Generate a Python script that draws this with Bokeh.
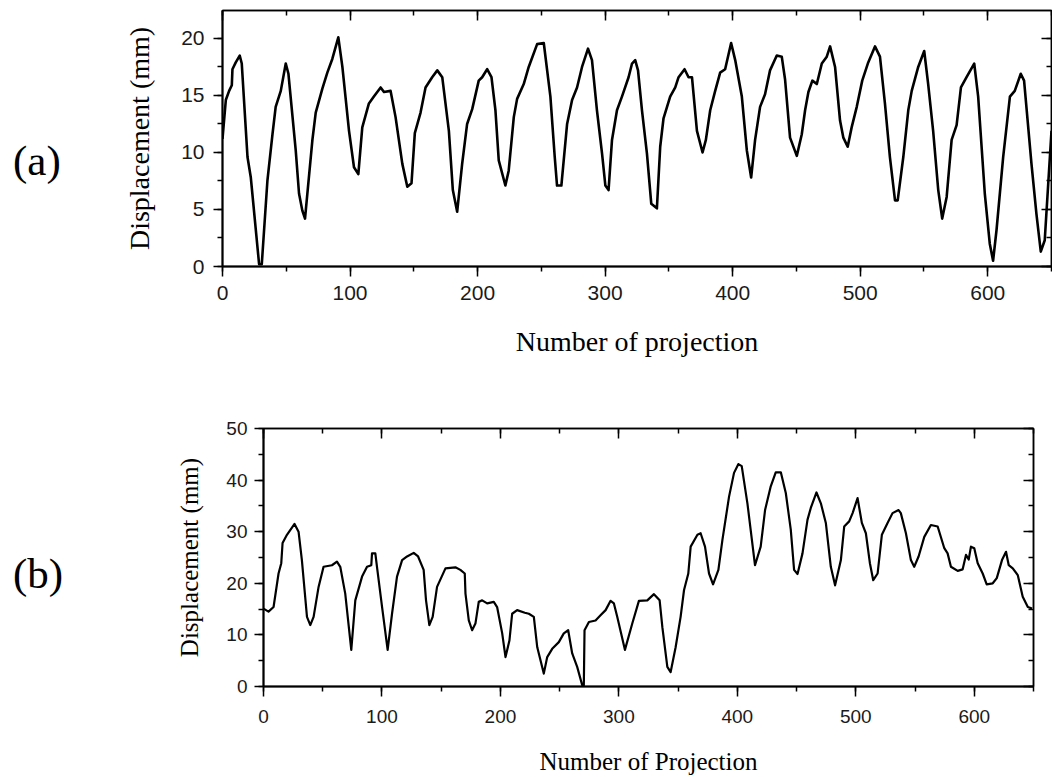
from bokeh.plotting import figure
from bokeh.models import (LinearAxis, Range1d, SingleIntervalTicker, CustomJSTickFormatter, Div)
from bokeh.layouts import row
from bokeh.embed import file_html
from bokeh.resources import INLINE

# ---------------- data ----------------
xa = [0, 2.6, 5.2, 7.3, 7.8, 10.4, 13.5, 15.1, 19.6, 22.2, 28.7, 30.8, 35.2, 39.2, 41.7, 45.7, 49.6, 51.7,
      57.4, 60, 62.6, 64.7, 70.5, 73.1, 78.3, 82.2, 86.1, 90.8, 94, 99.2, 103.1, 106.5, 109.6, 114.8, 118.7,
      124, 126.6, 131.8, 135.7, 141, 144.9, 148.2, 150.8, 155.3, 159.2, 164.4, 168.4, 172.3, 177.5, 180.6,
      184, 187.9, 191.8, 195.8, 200.9, 203.6, 207.5, 210.9, 214, 216.6, 221.8, 224.4, 228.4, 231, 236.2,
      240.1, 246.7, 251.9, 257.1, 260.5, 262.3, 265.7, 270.2, 274.1, 278, 281.9, 286.6, 289.7, 293.6, 297.6,
      300.2, 302.7, 305.4, 309.3, 313.2, 318.4, 321.1, 323.6, 325.8, 328.9, 332.8, 336.2, 340.6, 343.2,
      345.8, 351, 355, 357.6, 362.3, 365.4, 368.1, 372, 376.4, 379, 382.4, 386.3, 390.2, 394.1, 398.8, 402,
      407.2, 411.1, 414.5, 417.6, 421.5, 425.4, 429.3, 434.6, 438.5, 441.1, 445, 450.3, 454.2, 456.8, 459.4,
      462.5, 466, 469.9, 473.8, 476.4, 480.3, 484.2, 486.8, 490.2, 493.3, 497.3, 501.6, 506.3, 511.6, 515.5,
      519.4, 523.3, 527.3, 529.4, 533.8, 537.7, 540.4, 545.5, 550.2, 553.3, 557.2, 561.2, 564.3, 567.8,
      571.7, 575.6, 579, 583.4, 589.4, 592.5, 597.7, 601.6, 604.2, 606.9, 612.1, 617.4, 621.2, 625.9, 628.5,
      634.3, 638.2, 641.6, 644.7, 650]
ya = [11.2, 14.6, 15.4, 15.9, 17.3, 17.9, 18.5, 17.8, 9.6, 7.8, 0.2, 0.2, 7.5, 11.6, 14.0, 15.4, 17.8, 16.9,
      10.2, 6.4, 4.9, 4.2, 11.1, 13.5, 15.6, 17.0, 18.2, 20.1, 17.5, 11.9, 8.7, 8.1, 12.2, 14.3, 14.9,
      15.7, 15.3, 15.4, 13.1, 9.0, 7.0, 7.3, 11.7, 13.5, 15.7, 16.6, 17.2, 16.6, 11.9, 6.7,
      4.8, 9.0, 12.5, 13.8, 16.3, 16.6, 17.3, 16.6, 13.7, 9.3, 7.1, 8.4, 13.1, 14.7, 16.0,
      17.5, 19.5, 19.6, 14.9, 9.6, 7.1, 7.1, 12.5, 14.6, 15.7, 17.5, 19.1, 18.1, 13.7, 9.9,
      7.1, 6.7, 11.1, 13.7, 14.9, 16.6, 17.8, 18.1, 17.2, 13.7, 9.9, 5.5, 5.1, 10.5,
      13.0, 14.9, 15.7, 16.6, 17.3, 16.6, 16.6, 11.9, 10.0, 11.1, 13.7, 15.4, 17.0, 17.3, 19.6, 18.1,
      14.9, 10.2, 7.8, 11.1, 14.0, 15.1, 17.2, 18.5, 18.4, 16.4, 11.3, 9.7, 11.6, 13.7, 15.3,
      16.3, 16.0, 17.8, 18.4, 19.3, 17.5, 12.8, 11.3, 10.5, 12.2, 14.0, 16.3, 17.9, 19.3, 18.4,
      14.3, 9.6, 5.8, 5.8, 9.6, 13.7, 15.4, 17.5, 18.9, 16.0, 11.9, 6.7, 4.2, 6.1,
      11.1, 12.4, 15.7, 16.6, 17.8, 14.9, 6.4, 2.0, 0.5, 3.2, 9.6, 14.9, 15.4, 16.9, 16.3,
      9.0, 4.6, 1.3, 2.3, 11.9]

xb = [0, 4.2, 8.5, 12.7, 15, 16.1, 19.8, 26.2, 29.6, 32.4, 36.7, 39.5, 42.3, 46.5, 50.7, 57.8, 62, 64.8, 69,
      74.1, 77.5, 83.2, 87.4, 91, 91.6, 94.4, 95.8, 100.1, 104.8, 108.5, 112.7, 117, 121.2, 126.8, 130.5,
      135.2, 137.2, 140, 142.8, 146.5, 153.6, 162, 166.2, 169.9, 170.5, 173.3, 176.1, 178.9, 181.7, 184.6,
      188.8, 194.4, 197.2, 201.5, 204.3, 207.6, 209.9, 214.1, 220.6, 224, 228.2, 231.1, 236.6, 239.5, 243.7,
      249.3, 253.5, 257.2, 260.6, 264.8, 269.1, 270.4, 271, 274.7, 280.3, 284.5, 288.8, 293, 295.8, 298.6,
      305.1, 311.3, 316.9, 324, 329.6, 334.4, 336.7, 340.9, 343.7, 347.9, 352.1, 355, 358.6, 360.6, 366.3,
      369, 372.7, 376.1, 379.5, 384, 387.4, 393, 397.2, 400.9, 403.7, 408.5, 414.9, 419.7, 423.4, 428.2,
      432.4, 436.7, 440.9, 445.1, 447.9, 450.8, 455, 459.2, 462, 466.8, 470.5, 474.7, 478.9, 482.5, 487.4,
      490.2, 494.4, 497.3, 501.5, 505.1, 508.5, 511.9, 514.7, 518.4, 522, 526.8, 531, 536.1, 538, 542.3,
      546.5, 549.3, 553, 557.8, 563.4, 569.1, 574.7, 577.5, 580.3, 586, 590.2, 593, 595.3, 597.2, 600,
      602.9, 607.1, 610.5, 615.6, 619, 623.4, 626.8, 629.1, 632.5, 636.7, 640.9, 645.2, 648.8]
yb = [15.1, 14.5, 15.4, 21.9, 23.9, 27.8, 29.4, 31.5, 30.0, 24.5, 13.5, 11.9, 13.5, 19.3, 23.2, 23.5, 24.2, 23.2, 18.0,
      7.1, 16.7, 21.3, 23.2, 23.5, 25.8, 25.8, 23.2, 15.4, 7.1, 14.1, 21.3, 24.5, 25.2, 25.9, 25.2,
      22.6, 16.7, 11.9, 13.5, 19.3, 22.9, 23.1, 22.6, 21.9, 18.0, 12.8, 10.9, 12.2, 16.4, 16.7,
      16.1, 16.4, 15.4, 10.3, 5.7, 8.9, 14.1, 14.8, 14.3, 14.1, 13.5, 7.6, 2.5, 5.7, 7.3,
      8.6, 10.3, 10.9, 6.4, 3.8, 0.2, 0.2, 10.9, 12.5, 12.8, 13.8, 14.8, 16.6, 16.1, 13.5,
      7.1, 12.2, 16.6, 16.7, 17.9, 16.7, 11.5, 3.8, 2.8, 7.6, 13.5, 18.7, 21.9, 27.1, 29.4,
      29.7, 27.1, 21.9, 19.8, 22.6, 28.4, 36.8, 41.4, 43.1, 42.7, 35.5, 23.5, 27.1, 34.2, 38.8,
      41.5, 41.5, 37.5, 30.4, 22.6, 21.8, 25.8, 32.3, 34.6, 37.6, 35.5, 31.7, 23.2, 19.6, 24.5,
      31.0, 32.0, 33.6, 36.5, 31.7, 29.7, 23.9, 20.6, 21.9, 29.4, 31.7, 33.6, 34.2, 33.6, 29.7,
      24.5, 23.2, 25.2, 29.0, 31.3, 31.0, 26.8, 25.8, 23.2, 22.4, 22.7, 25.5, 24.6, 27.1, 26.8,
      23.9, 21.9, 19.8, 20.0, 21.0, 24.5, 26.1, 23.5, 22.9, 21.6, 17.4, 15.4, 15.1]

ytitle = "Displacement (mm)"
xtitle_a = "Number of projection"
xtitle_b = "Number of Projection"
panel_a = "(a)"
panel_b = "(b)"

SANS = "Liberation Sans"
SERIF = "Liberation Serif"


def style_axis(ax, tick_font, title_font, tick_out, tick_in, minor_out, minor_in,
               label_standoff, title_standoff, line_w):
    ax.axis_line_color = "black"
    ax.axis_line_width = line_w
    ax.major_tick_line_color = "black"
    ax.minor_tick_line_color = "black"
    ax.major_tick_line_width = 1.5
    ax.minor_tick_line_width = 1.5
    ax.major_tick_out = tick_out
    ax.major_tick_in = tick_in
    ax.minor_tick_out = minor_out
    ax.minor_tick_in = minor_in
    ax.major_label_text_font = SANS
    ax.major_label_text_font_size = tick_font
    ax.major_label_text_color = "#1a1a1a"
    ax.major_label_standoff = label_standoff
    ax.axis_label_text_font = SERIF
    ax.axis_label_text_font_size = title_font
    ax.axis_label_text_font_style = "normal"
    ax.axis_label_text_color = "black"
    ax.axis_label_standoff = title_standoff


def mirror_axis(interval):
    ax = LinearAxis(ticker=SingleIntervalTicker(interval=interval, num_minor_ticks=2),
                    formatter=CustomJSTickFormatter(code="return ''"))
    style_axis(ax, "0px", "0px", 0, 10, 0, 5, 0, 0, 1.5)
    return ax


def panel(xs, ys, xend, ytop, yint, width, height, bl, br, bt, bb, tick_font, title_font,
          xtitle, lw, xl_stand, xt_stand, yl_stand, yt_stand):
    p = figure(width=width, height=height, x_range=Range1d(0, xend), y_range=Range1d(0, ytop),
               output_backend="svg", toolbar_location=None,
               min_border_left=bl, min_border_right=br, min_border_top=bt, min_border_bottom=bb,
               x_axis_location=None, y_axis_location=None)
    p.xgrid.visible = False
    p.ygrid.visible = False
    p.outline_line_color = "black"
    p.outline_line_width = 1.5
    p.background_fill_color = "white"
    p.border_fill_color = "white"

    xb_ax = LinearAxis(ticker=SingleIntervalTicker(interval=100, num_minor_ticks=2), axis_label=xtitle)
    style_axis(xb_ax, tick_font, title_font, 10, 0, 5, 0, xl_stand, xt_stand, 2)
    p.add_layout(xb_ax, "below")

    yl_ax = LinearAxis(ticker=SingleIntervalTicker(interval=yint, num_minor_ticks=2), axis_label=ytitle)
    style_axis(yl_ax, tick_font, title_font, 9, 0, 5, 0, yl_stand, yt_stand, 2)
    p.add_layout(yl_ax, "left")

    p.add_layout(mirror_axis(100), "above")
    p.add_layout(mirror_axis(yint), "right")

    p.line(xs, ys, line_color="black", line_width=lw, line_join="round")
    return p


def tag(text, width, pad_top, pad_left):
    return Div(text=text, width=width,
               styles={"font-family": SERIF, "font-size": "43px", "color": "black",
                       "padding-top": f"{pad_top}px", "padding-left": f"{pad_left}px",
                       "line-height": "46px"})


pa = panel(xa, ya, 650, 22.45, 5, 972, 380, 142, 1, 10, 114, "21px", "28px", xtitle_a, 2.6,
           9, 23, 9, 23)
pb = panel(xb, yb, 650, 50, 10, 972, 397, 183, 19, 48, 91, "19px", "25px", xtitle_b, 2.2,
           13, 22, 7, 20)

root_a = row(tag(panel_a, 70, 133, 8), pa, spacing=0)
root_b = row(tag(panel_b, 70, 166, 8), pb, spacing=0)

open("out.html", "w").write(file_html([root_a, root_b], INLINE))
